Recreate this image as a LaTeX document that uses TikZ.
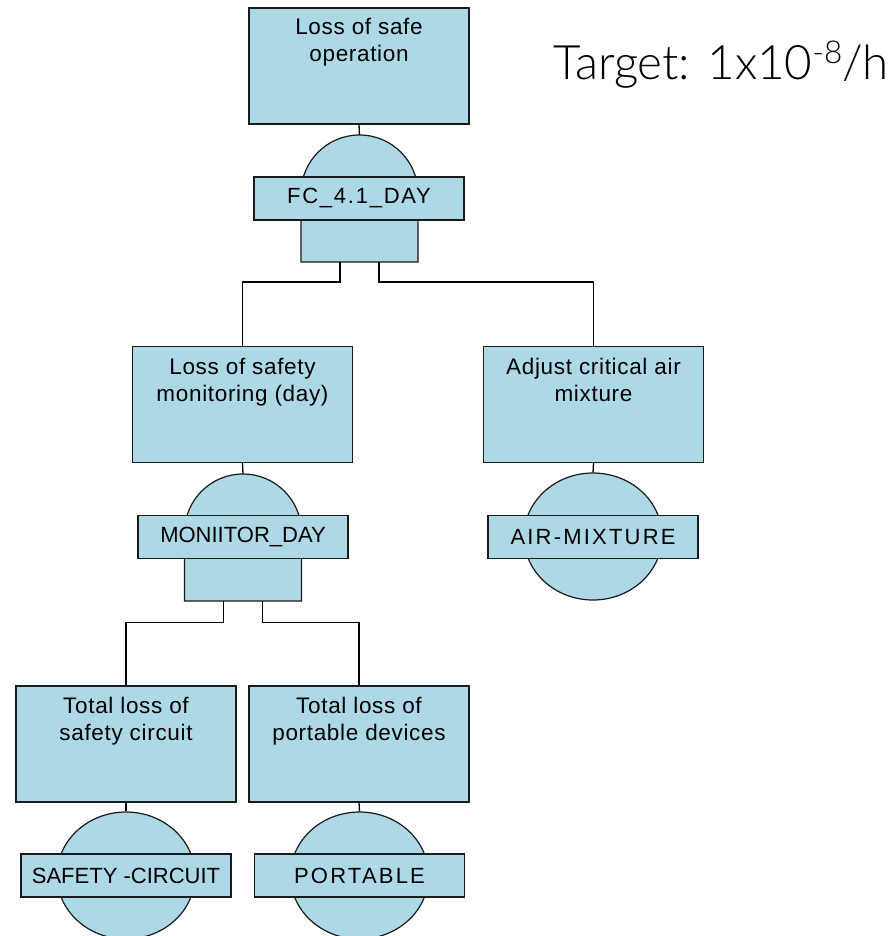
\documentclass[tikz,border=0pt]{standalone}
\usepackage{fontspec}
\setmainfont{Liberation Sans}
\newfontfamily\boxfont{Liberation Sans}[LetterSpace=3]
\newfontfamily\labelfont{Liberation Sans}
\newfontfamily\labelfontwide{Liberation Sans}[LetterSpace=8]
\newfontfamily\labelfontwider{Liberation Sans}[LetterSpace=10]
\newfontfamily\targetfont{Lato Light}
\usetikzlibrary{shapes.geometric}
\definecolor{ftfill}{HTML}{ADD8E6}
\definecolor{ftline}{HTML}{1A1A1A}

\tikzset{
  outline/.style={draw=ftline, line width=1.2pt, fill=ftfill},
  wire/.style={draw=black, line width=1.3pt},
  eventbox/.style={outline, rectangle, minimum width=220pt, minimum height=116pt, inner sep=0pt},
  eventtext/.style={anchor=north, inner sep=0pt, align=center, font=\boxfont\fontsize{22.5}{27}\selectfont},
  gatelabel/.style={outline, rectangle, minimum width=210pt, minimum height=43pt, inner sep=0pt, font=\labelfont\fontsize{22}{26}\selectfont},
  basicevent/.style={outline, ellipse, minimum width=138pt, minimum height=127pt, inner sep=0pt},
  pics/andgate/.style={code={
    \path[outline] (-58.5,0) arc[start angle=180, end angle=360, radius=58.5]
      -- (58.5,68.5) -- (-58.5,68.5) -- cycle;
    \coordinate (-top) at (0,-58.5);
    \coordinate (-inL) at (-19.5,68.5);
    \coordinate (-inR) at (19.5,68.5);
  }}
}

\begin{document}
\begin{tikzpicture}[x=1pt, y=-1pt]
\useasboundingbox (0,0) rectangle (894,936);

% target
\node[anchor=base west, inner sep=0pt, font=\targetfont\fontsize{47.5}{55}\selectfont] (target) at (553,80)
  {Target: 1x10\raisebox{16.5pt}{\fontsize{31.5}{36}\selectfont -8}/h};

% top event
\node[eventbox] (top) at (359,66) {};
\node[eventtext] (topt) at ([yshift=-11pt]top.north) {Loss of safe\\operation};
\draw[wire] (top.south) -- (359.5,135.5) coordinate (g1top);
\pic (g1) at (359.5,193.5) {andgate};
\node[gatelabel, font=\labelfontwide\fontsize{22}{26}\selectfont] (g1lab) at (359,198.5) {FC\_4.1\_DAY};

% second level
\node[eventbox] (L1) at (242.5,404.5) {};
\node[eventtext] (L1t) at ([yshift=-12pt]L1.north) {Loss of safety\\monitoring (day)};
\node[eventbox] (R1) at (593.5,404.5) {};
\node[eventtext] (R1t) at ([yshift=-12pt]R1.north) {Adjust critical air\\mixture};

\draw[wire] (g1-inL) -- ++(0,20) -| (L1.north);
\draw[wire] (g1-inR) -- ++(0,20) -| (R1.north);

% monitoring gate
\draw[wire] (L1.south) -- (243,474) coordinate (g2top);
\pic (g2) at (243,532.5) {andgate};
\node[gatelabel] (g2lab) at (243,537) {MONIITOR\_DAY};

% air mixture basic event
\node[basicevent] (air) at (593,536.5) {};
\draw[wire] (R1.south) -- (air.north);
\node[gatelabel, font=\labelfontwider\fontsize{22}{26}\selectfont] (airlab) at (593,537) {AIR-MIXTURE};

% third level
\node[eventbox] (L2) at (126,744) {};
\node[eventtext] (L2t) at ([yshift=-12pt]L2.north) {Total loss of\\safety circuit};
\node[eventbox] (R2) at (359,744) {};
\node[eventtext] (R2t) at ([yshift=-12pt]R2.north) {Total loss of\\portable devices};

\draw[wire] (g2-inL) -- ++(0,21.5) -| (L2.north);
\draw[wire] (g2-inR) -- ++(0,21.5) -| (R2.north);

% basic events
\node[basicevent] (sc) at (126,875.5) {};
\draw[wire] (L2.south) -- (sc.north);
\node[gatelabel] (sclab) at (126,875.5) {SAFETY -CIRCUIT};

\node[basicevent] (port) at (359.5,875.5) {};
\draw[wire] (R2.south) -- (port.north);
\node[gatelabel, font=\labelfontwider\fontsize{22}{26}\selectfont] (portlab) at (359.5,875.5) {PORTABLE};
\end{tikzpicture}
\end{document}
